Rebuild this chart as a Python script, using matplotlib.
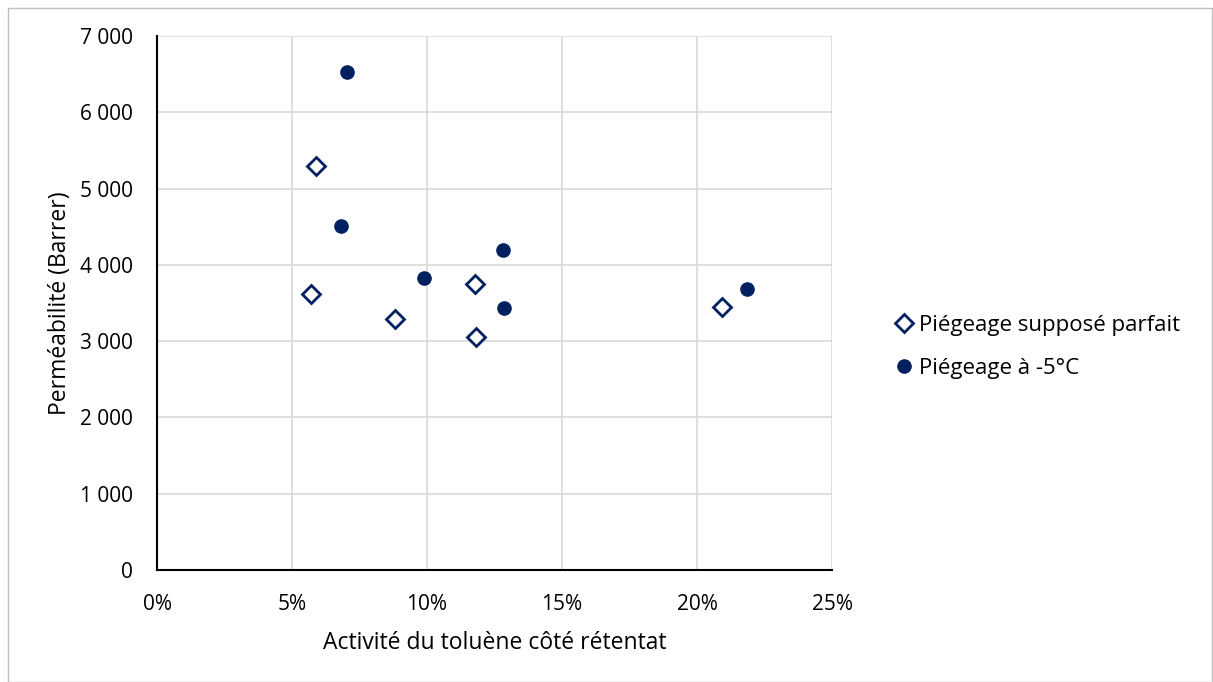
import numpy as np
import matplotlib.pyplot as plt
from matplotlib.patches import Rectangle
from matplotlib.ticker import FuncFormatter, MultipleLocator

plt.rcParams['font.family'] = ['Open Sans', 'DejaVu Sans']

# Data
activite_parfait = np.array([5.89, 5.70, 8.80, 11.77, 11.80, 20.93]) / 100
perm_parfait = np.array([5295, 3613, 3286, 3744, 3050, 3443])

activite_m5 = np.array([7.03, 6.83, 9.89, 12.81, 12.85, 21.87]) / 100
perm_m5 = np.array([6523, 4512, 3823, 4194, 3430, 3683])

navy = "#002060"

fig = plt.figure(figsize=(12.13, 6.82), dpi=100)
ax = fig.add_axes([157 / 1213, 1 - 570 / 682, 675 / 1213, 534 / 682])

ax.plot(activite_parfait, perm_parfait, linestyle="none", marker="D", markersize=9,
        markerfacecolor="white", markeredgecolor=navy, markeredgewidth=2,
        label="Piégeage supposé parfait", zorder=3)
ax.plot(activite_m5, perm_m5, linestyle="none", marker="o", markersize=9.5,
        color=navy, label="Piégeage à -5°C", zorder=3)

ax.set_xlim(0, 0.25)
ax.set_ylim(0, 7000)
ax.xaxis.set_major_locator(MultipleLocator(0.05))
ax.yaxis.set_major_locator(MultipleLocator(1000))
ax.xaxis.set_major_formatter(FuncFormatter(lambda v, p: f"{v * 100:.0f}%"))
ax.yaxis.set_major_formatter(FuncFormatter(lambda v, p: f"{v:,.0f}".replace(",", " ")))

ax.grid(True, color="#d9d9d9", linewidth=1.2)
ax.set_axisbelow(True)
for s in ["top", "right"]:
    ax.spines[s].set_visible(False)
ax.spines["left"].set_linewidth(1.5)
ax.spines["bottom"].set_linewidth(1.5)
ax.tick_params(length=0, labelsize=15, colors="black")
ax.tick_params(axis="x", pad=17)
ax.tick_params(axis="y", pad=17.5)

ax.set_xlabel("Activité du toluène côté rétentat", fontsize=16.5, labelpad=12)
ax.set_ylabel("Perméabilité (Barrer)", fontsize=16.5, labelpad=5.5)

fig.legend(loc="center left", bbox_to_anchor=(871 / 1213, 1 - 347 / 682), frameon=False,
           fontsize=16, handletextpad=0.05, labelspacing=1.0, handlelength=1.2)

fig.patches.append(Rectangle((8 / 1213, 0), 1 - 9 / 1213, 1 - 8 / 682, transform=fig.transFigure,
                             fill=False, edgecolor="#bfbfbf", linewidth=1))

fig.savefig("out.png", dpi=100)
